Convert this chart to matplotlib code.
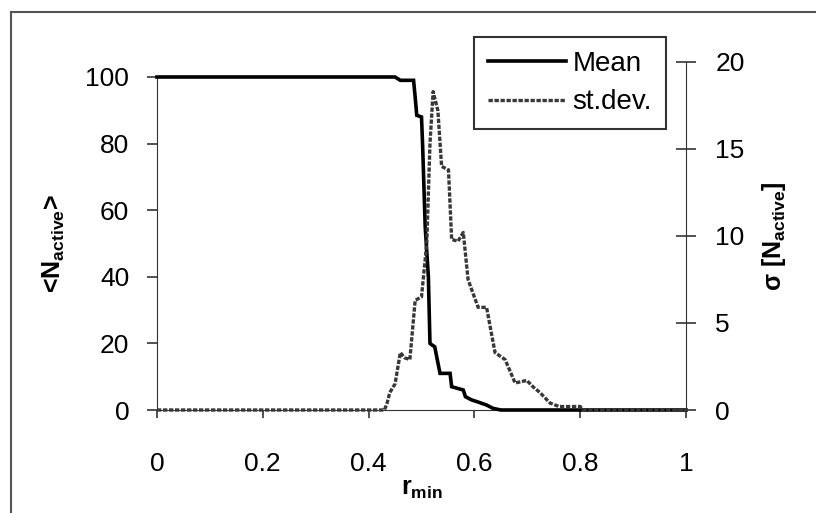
import matplotlib
matplotlib.use("Agg")
import matplotlib.pyplot as plt
from matplotlib.lines import Line2D

plt.rcParams['font.family'] = ['Liberation Sans', 'DejaVu Sans']
plt.rcParams['mathtext.fontset'] = 'custom'
plt.rcParams['mathtext.rm'] = 'Liberation Sans'
plt.rcParams['mathtext.bf'] = 'Liberation Sans:bold'

# Mean <N_active> (left axis)
mean_r = [0.0, 0.45, 0.455, 0.46, 0.485, 0.488, 0.491, 0.50, 0.502, 0.507, 0.513, 0.516,
          0.52, 0.525, 0.53, 0.535, 0.554, 0.557, 0.579, 0.583, 0.595, 0.605, 0.623, 0.635, 0.65, 1.0]
mean_v = [100, 100, 99.5, 99, 99, 94, 88.5, 88, 80, 55, 40, 20,
          19.5, 19, 15, 11, 11, 7, 6, 4, 3, 2.5, 1.5, 0.5, 0, 0]

# st.dev. sigma[N_active] (right axis)
sd_r = [0.0, 0.43, 0.435, 0.44, 0.45, 0.46, 0.468, 0.478, 0.488, 0.50, 0.51, 0.516, 0.522,
        0.531, 0.538, 0.551, 0.557, 0.569, 0.579, 0.588, 0.607, 0.623, 0.639, 0.658,
        0.677, 0.699, 0.712, 0.724, 0.743, 0.76, 0.80, 0.805, 1.0]
sd_v = [0, 0, 0.4, 1.0, 1.5, 3.3, 3.0, 2.9, 6.3, 6.5, 9.6, 15.3, 18.3,
        17.2, 14.0, 13.8, 9.8, 9.7, 10.2, 7.5, 5.9, 5.9, 3.3, 2.9,
        1.55, 1.7, 1.3, 1.0, 0.4, 0.2, 0.2, 0, 0]

x_ticks = [0, 0.2, 0.4, 0.6, 0.8, 1.0]
x_ticklabels = ['0', '0.2', '0.4', '0.6', '0.8', '1']
left_ticks = [0, 20, 40, 60, 80, 100]
right_ticks = [0, 5, 10, 15, 20]

W, H = 816, 513
fig = plt.figure(figsize=(W / 100, H / 100), dpi=100)

def box(x0, y0, x1, y1):
    return [x0 / W, 1 - y1 / H, (x1 - x0) / W, (y1 - y0) / H]

ax = fig.add_axes(box(157, 77, 686, 410))
ax2 = fig.add_axes(box(157, 62, 686, 410), sharex=ax)
ax2.patch.set_alpha(0)

fs = 19
SD_STYLE = dict(color='#383838', lw=2.4, linestyle=(0, (1.3, 0.5)))

# left axis
ax.set_xlim(0, 1)
ax.set_ylim(0, 100)
for s in ['top', 'right']:
    ax.spines[s].set_visible(False)
ax.spines['left'].set_color('#333333')
ax.spines['bottom'].set_color('#333333')
ax.set_yticks(left_ticks)
ax.set_xticks(x_ticks)
ax.set_xticklabels(x_ticklabels)
ax.tick_params(axis='y', direction='out', length=7, width=1.2, labelsize=fs, color='#333333', pad=13)
ax.tick_params(axis='x', direction='out', length=6, width=1.2, labelsize=fs, color='#333333', pad=24)
ax.set_ylabel('<N$_{\\mathbf{active}}$>', fontsize=18, fontweight='bold', labelpad=13)
ax.set_xlabel('r$_{\\mathbf{min}}$', fontsize=18, fontweight='bold', labelpad=1)

# right axis
ax2.set_ylim(0, 20)
for s in ['top', 'left', 'bottom']:
    ax2.spines[s].set_visible(False)
ax2.spines['right'].set_color('#333333')
ax2.yaxis.tick_right()
ax2.yaxis.set_label_position('right')
ax2.set_yticks(right_ticks)
ax2.tick_params(axis='y', direction='inout', length=14, width=1.2, labelsize=fs, color='#333333', pad=14)
ax2.tick_params(axis='x', bottom=False, labelbottom=False)
ax2.set_ylabel('σ [N$_{\\mathbf{active}}$]', fontsize=18, fontweight='bold', labelpad=11)

ax.plot(mean_r, mean_v, color='black', lw=2.6, solid_joinstyle='miter', zorder=4, clip_on=False)
ax2.plot(sd_r, sd_v, zorder=3, clip_on=False, **SD_STYLE)

# legend
handles = [Line2D([], [], color='black', lw=2.6), Line2D([], [], **SD_STYLE)]
leg = fig.legend(handles, ['Mean', 'st.dev.'], loc='upper left',
                 bbox_to_anchor=(474 / W, 1 - 37 / H), fontsize=20, frameon=True,
                 fancybox=False, edgecolor='black', handlelength=2.8, handletextpad=0.25,
                 borderpad=0.5, labelspacing=0.45, borderaxespad=0)
leg.get_frame().set_linewidth(1.5)

# outer frame
fig.add_artist(Line2D([11 / W, 1], [1 - 12 / H, 1 - 12 / H], color='#555555', lw=1.5))
fig.add_artist(Line2D([11 / W, 11 / W], [0, 1 - 12 / H], color='#555555', lw=1.5))

fig.savefig('out.png', dpi=100)
